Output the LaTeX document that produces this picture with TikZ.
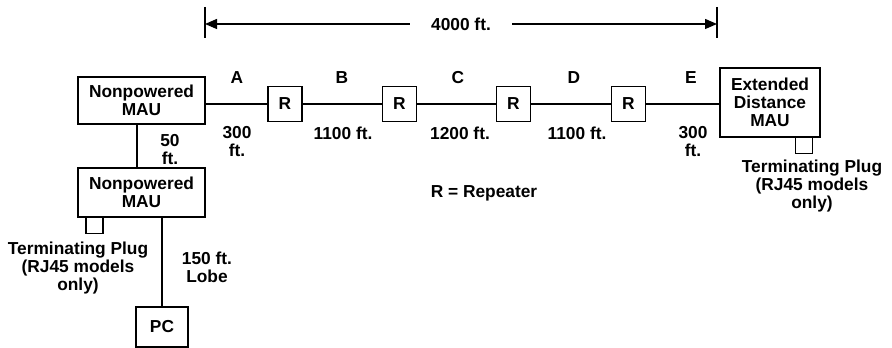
\documentclass[tikz,border=0pt]{standalone}
\usepackage{fontspec}
\setmainfont{Liberation Sans}
\usepackage{tikz}
\usetikzlibrary{arrows.meta,positioning}
\tikzset{
  mbox/.style={draw=black,line width=1.1pt,fill=white,align=center,inner sep=0pt},
  mplug/.style={draw=black,line width=1.1pt,inner sep=0pt,minimum width=12.75pt,minimum height=12pt},
  mlabel/.style={align=center,inner sep=0pt},
  mline/.style={line width=1pt,draw=black},
  marr/.style={-{Triangle[length=9pt,width=7.5pt]},line width=1pt,draw=black}
}
\begin{document}
\begin{tikzpicture}[x=0.75pt,y=-0.75pt,font=\fontsize{13}{13.5}\selectfont\bfseries]
  \useasboundingbox (0,0) rectangle (892,348);
  % dimension line
  \node[mlabel] (len) at (461,24) {4000 ft.};
  \coordinate (dl) at (205,24);
  \coordinate (dr) at (717,24);
  \draw[mline] (dl) ++(0,-17) -- ++(0,31);
  \draw[mline] (dr) ++(0,-17) -- ++(0,31);
  \draw[marr] ([xshift=-16pt]len.west) -- (dl);
  \draw[marr] ([xshift=16pt]len.east) -- (dr);
  % main trunk
  \node[mbox,minimum width=95.25pt,minimum height=35.25pt] (mau1) at (141.5,100.5) {Nonpowered\\MAU};
  \node[mbox,minimum width=25.5pt,minimum height=26pt] (r1) at (285,104) {R};
  \node[mbox,minimum width=25.5pt,minimum height=26pt] (r2) at (399.5,104) {R};
  \node[mbox,minimum width=25.5pt,minimum height=26pt] (r3) at (513.5,104) {R};
  \node[mbox,minimum width=25.5pt,minimum height=26pt] (r4) at (628.5,104) {R};
  \node[mbox,minimum width=75pt,minimum height=51.75pt] (ext) at (770,102.5) {Extended\\Distance\\MAU};
  \draw[mline] (r1 -| mau1.east) -- (r1.west);
  \draw[mline] (r1) -- (r2); \draw[mline] (r2) -- (r3); \draw[mline] (r3) -- (r4);
  \draw[mline] (r4.east) -- (r4 -| ext.west);
  \node[mlabel] (la) at (237,78) {A};
  \node[mlabel] (lb) at (342,78) {B};
  \node[mlabel] (lc) at (458,78) {C};
  \node[mlabel] (ld) at (574,78) {D};
  \node[mlabel] (le) at (691,78) {E};
  \node[mlabel] (da) at (237,141.5) {300\\ft.};
  \node[mlabel] (db) at (343,133) {1100 ft.};
  \node[mlabel] (dc) at (460,133) {1200 ft.};
  \node[mlabel] (dd) at (577,133) {1100 ft.};
  \node[mlabel] (de) at (693,141.5) {300\\ft.};
  \node[mlabel] (key) at (484,193) {R = Repeater};
  % extended distance plug
  \node[mplug,anchor=north] (plug2) at (804,137) {};
  \node[mlabel] (plugtxt2) at (812,186) {Terminating Plug\\(RJ45 models\\only)};
  % lobe side
  \node[mbox,minimum width=95.25pt,minimum height=36.75pt] (mau2) at (141.5,192.5) {Nonpowered\\MAU};
  \draw[mline] (mau1.south -| 137,0) -- (mau2.north -| 137,0);
  \node[mlabel] (d50) at (170,150) {50\\ft.};
  \node[mplug,anchor=north] (plug1) at (94.5,217) {};
  \node[mlabel] (plugtxt1) at (78,268) {Terminating Plug\\(RJ45 models\\only)};
  \node[mbox,minimum width=39pt,minimum height=30pt] (pc) at (162,327) {PC};
  \draw[mline] (pc.north) -- (pc.north |- mau2.south);
  \node[mlabel] (lobe) at (207,267) {150 ft.\\Lobe};
\end{tikzpicture}
\end{document}
